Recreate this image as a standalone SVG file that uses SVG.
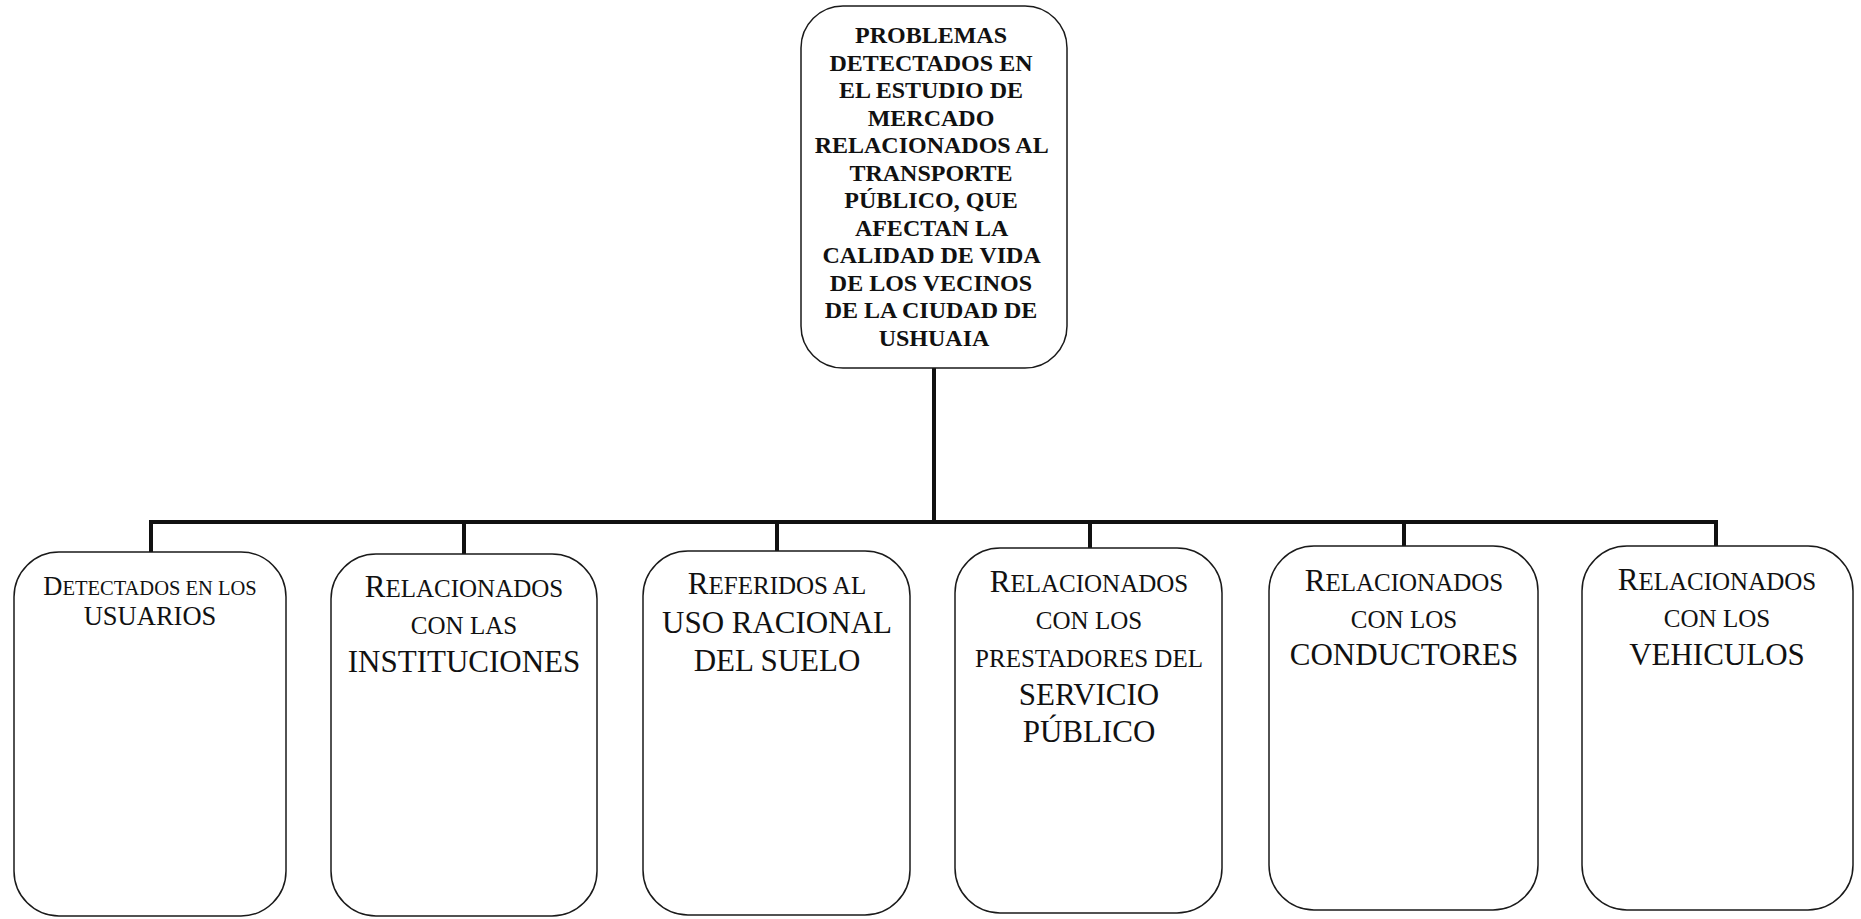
<svg xmlns="http://www.w3.org/2000/svg" width="1861" height="919" viewBox="0 0 1861 919">
<style>
.box{fill:#ffffff;stroke:#1a1a1a;stroke-width:1.5}
.conn{stroke:#111;stroke-width:4;fill:none}
.t{font-family:"Liberation Serif","Times New Roman",serif;fill:#111;text-anchor:middle}
.tb{font-family:"Liberation Serif","Times New Roman",serif;font-weight:bold;font-size:24px;fill:#111;text-anchor:middle}
.big{font-size:31px}
.sc{font-size:25px}
</style>
<rect width="1861" height="919" fill="#ffffff"/>
<g id="connectors">
<line class="conn" x1="934" y1="368" x2="934" y2="522"/>
<line class="conn" x1="149" y1="522" x2="1718" y2="522"/>
<line class="conn" x1="151" y1="520" x2="151" y2="553"/>
<line class="conn" x1="464" y1="520" x2="464" y2="555"/>
<line class="conn" x1="777" y1="520" x2="777" y2="552"/>
<line class="conn" x1="1090" y1="520" x2="1090" y2="549"/>
<line class="conn" x1="1404" y1="520" x2="1404" y2="547"/>
<line class="conn" x1="1716" y1="520" x2="1716" y2="547"/>
</g>
<g id="root">
<rect class="box" x="801" y="6" width="266" height="362" rx="42" ry="42"/>
<text class="tb">
<tspan x="934" y="43">PROBLEMAS</tspan>
<tspan x="934" y="70.5">DETECTADOS EN</tspan>
<tspan x="934" y="98">EL ESTUDIO DE</tspan>
<tspan x="934" y="125.5">MERCADO</tspan>
<tspan x="934" y="153">RELACIONADOS AL</tspan>
<tspan x="934" y="180.5">TRANSPORTE</tspan>
<tspan x="934" y="208">PÚBLICO, QUE</tspan>
<tspan x="934" y="235.5">AFECTAN LA</tspan>
<tspan x="934" y="263">CALIDAD DE VIDA</tspan>
<tspan x="934" y="290.5">DE LOS VECINOS</tspan>
<tspan x="934" y="318">DE LA CIUDAD DE</tspan>
<tspan x="934" y="345.5">USHUAIA</tspan>
</text>
</g>
<g id="usuarios">
<rect class="box" x="14" y="552" width="272" height="364" rx="45" ry="45"/>
<text class="t" x="150" y="595"><tspan font-size="26.5">D</tspan><tspan font-size="20.5">ETECTADOS EN LOS</tspan></text>
<text class="t" x="150" y="625" font-size="26.5">USUARIOS</text>
</g>
<g id="instituciones">
<rect class="box" x="331" y="554" width="266" height="362" rx="45" ry="45"/>
<text class="t" x="464" y="597"><tspan class="big">R</tspan><tspan class="sc">ELACIONADOS</tspan></text>
<text class="t sc" x="464" y="634">CON LAS</text>
<text class="t big" x="464" y="672">INSTITUCIONES</text>
</g>
<g id="suelo">
<rect class="box" x="643" y="551" width="267" height="364" rx="45" ry="45"/>
<text class="t" x="777" y="594"><tspan class="big">R</tspan><tspan class="sc">EFERIDOS AL</tspan></text>
<text class="t big" x="777" y="633">USO RACIONAL</text>
<text class="t big" x="777" y="671">DEL SUELO</text>
</g>
<g id="prestadores">
<rect class="box" x="955" y="548" width="267" height="365" rx="45" ry="45"/>
<text class="t" x="1089" y="592"><tspan class="big">R</tspan><tspan class="sc">ELACIONADOS</tspan></text>
<text class="t sc" x="1089" y="629">CON LOS</text>
<text class="t sc" x="1089" y="667">PRESTADORES DEL</text>
<text class="t big" x="1089" y="705">SERVICIO</text>
<text class="t big" x="1089" y="742">PÚBLICO</text>
</g>
<g id="conductores">
<rect class="box" x="1269" y="546" width="269" height="364" rx="45" ry="45"/>
<text class="t" x="1404" y="591"><tspan class="big">R</tspan><tspan class="sc">ELACIONADOS</tspan></text>
<text class="t sc" x="1404" y="628">CON LOS</text>
<text class="t big" x="1404" y="665">CONDUCTORES</text>
</g>
<g id="vehiculos">
<rect class="box" x="1582" y="546" width="271" height="364" rx="45" ry="45"/>
<text class="t" x="1717" y="590"><tspan class="big">R</tspan><tspan class="sc">ELACIONADOS</tspan></text>
<text class="t sc" x="1717" y="627">CON LOS</text>
<text class="t big" x="1717" y="665">VEHICULOS</text>
</g>
</svg>
